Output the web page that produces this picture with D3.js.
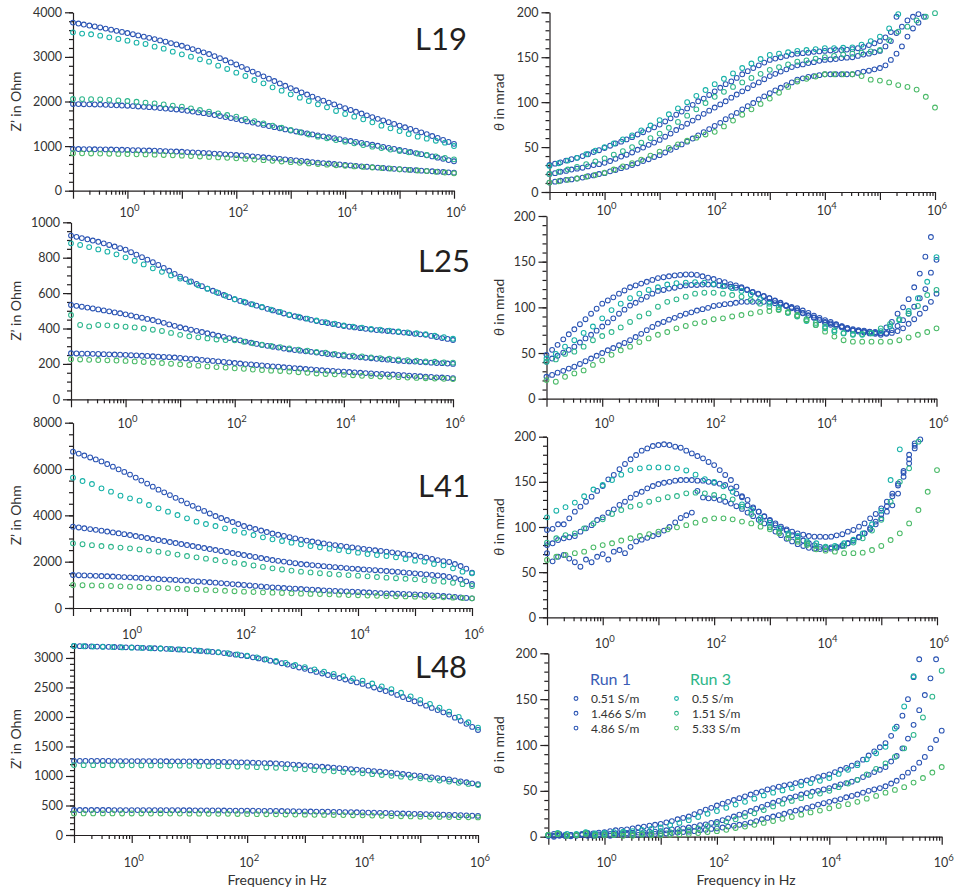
<!DOCTYPE html>
<html><head><meta charset="utf-8">
<script src="https://cdn.jsdelivr.net/npm/d3@7"></script>
<style>body{margin:0;background:#fff}svg{display:block}</style>
</head><body><svg id="c" width="962" height="891"></svg>
<script>
// ---------- DATA ----------
const freqRun1=[0.1,0.126,0.158,0.2,0.251,0.316,0.398,0.501,0.631,0.794,1,1.26,1.58,2,2.51,3.16,3.98,5.01,6.31,7.94,10,12.6,15.8,20,25.1,31.6,39.8,50.1,63.1,79.4,100,126,158,200,251,316,398,501,631,794,1e3,1260,1580,2e3,2510,3160,3980,5010,6310,7940,1e4,12600,15800,2e4,25100,31600,39800,50100,63100,79400,1e5,126000,158000,2e5,251000,316000,398000,501000,631000,794000,1e6];
const freqRun3=[0.1,0.147,0.215,0.316,0.464,0.681,1,1.47,2.15,3.16,4.64,6.81,10,14.7,21.5,31.6,46.4,68.1,100,147,215,316,464,681,1e3,1470,2150,3160,4640,6810,1e4,14700,21500,31600,46400,68100,1e5,147000,215000,316000,464000,681000,1e6];
const namesRun1=["0.51 S/m","1.466 S/m","4.86 S/m"];
const namesRun3=["0.5 S/m","1.51 S/m","5.33 S/m"];
const xLabelExps=[0,2,4,6];
const yTicksL19=[0,1000,2000,3000,4000];
const yTicksL25=[0,200,400,600,800,1000];
const yTicksL41=[0,2000,4000,6000,8000];
const yTicksL48=[0,500,1000,1500,2000,2500,3000];
const yTicksTheta=[0,50,100,150,200];

// L19 Z'
const L19_Z_r1_a=[3770,3748,3726,3704,3682,3660,3635,3610,3585,3560,3535,3508,3481,3454,3427,3400,3370,3340,3310,3280,3250,3213,3176,3139,3102,3065,3018,2971,2924,2877,2830,2777,2724,2671,2618,2565,2512,2459,2406,2353,2300,2252,2204,2156,2108,2060,2018,1976,1934,1892,1850,1810,1770,1730,1690,1650,1612,1574,1536,1498,1460,1422,1384,1346,1308,1270,1226,1182,1138,1094,1050];
const L19_Z_r1_b=[1945,1942,1939,1936,1933,1930,1925,1920,1915,1910,1905,1897,1889,1881,1873,1865,1854,1843,1832,1821,1810,1792,1774,1756,1738,1720,1697,1674,1651,1628,1605,1579,1553,1527,1501,1475,1450,1425,1400,1375,1350,1328,1306,1284,1262,1240,1219,1198,1177,1156,1135,1114,1093,1072,1051,1030,1007,984,961,938,915,891,867,843,819,795,768,741,714,687,660];
const L19_Z_r1_c=[935,934,932,931,929,928,925,923,920,918,915,911,908,904,901,897,892,887,883,878,873,866,860,853,847,840,832,824,816,808,800,790,780,770,760,750,738,726,714,702,690,678,666,654,642,630,619,609,598,588,577,567,557,547,537,527,518,509,500,491,482,474,466,458,450,442,435,427,420,412,404];
const L19_Z_r3_a=[3551,3522,3507,3477,3439,3402,3364,3320,3290,3230,3185,3118,3058,3006,2946,2893,2804,2729,2647,2572,2482,2407,2318,2243,2161,2086,2011,1936,1869,1787,1720,1660,1600,1533,1458,1398,1338,1271,1211,1166,1121,1077,1002];
const L19_Z_r3_b=[2056,2054,2051,2049,2036,2024,2011,1994,1976,1959,1934,1909,1884,1847,1809,1772,1735,1697,1660,1610,1560,1510,1460,1411,1361,1311,1261,1211,1174,1136,1099,1062,1024,987,955,922,890,860,830,800,768,735,703];
const L19_Z_r3_c=[840,837,835,832,829,825,822,817,813,808,801,793,786,776,767,757,746,736,725,712,698,685,670,655,640,626,611,597,584,571,558,545,533,520,507,495,482,468,454,440,423,407,390];
// L19 theta
const L19_T_r1_a=[30,31.5,33,35,36.5,38,40,42,44.5,46.5,49,51.5,54,56,58.5,61,64,66.5,69.5,72,75,78.5,82,86,89.5,93,97,101,104,108,112,116,120,123,127,131,134.5,138,141,144,147,148.5,150,151.5,153,154,154.5,155,156,156.5,157,157.5,158,158,158.5,159,160,161.5,163.5,165.5,168,172,178,195,null,null,null,null,null,null,null];
const L19_T_r1_b=[20,21,22.5,23.5,25,26,27,28.5,30,31,32.5,34.5,37,39.5,41.5,44,47,49.5,52.5,55,58,61.5,65,69,72.5,76,79.5,83,87,90.5,94,97.5,101,105,108.5,112,115.5,119,122,125.5,129,131.5,134,136.5,139,141,142,143.5,144.5,146,147,147.5,148,149,149.5,150,151.5,153,154,155.5,157,162,168,177,184,191,195,198,null,null,null];
const L19_T_r1_c=[10.5,11.5,12.5,13.5,14,15,16,17.5,18.5,20,21,23,24.5,26.5,28,30,32,34.5,36.5,39,41,44,47,50,53,56,59.5,63,66.5,70,73.5,77,81,84.5,88,92,95.5,99,103,106.5,110,113,116,119,122,125,126.5,128,129,130,131,131,131,131,131,131,132.5,134,135,136.5,138,141,147,154,162,173,182,188.5,195,null,null];
const L19_T_r3_a=[29,32,35,38,42,46,50,54,58.5,63,68.5,74,80,86.5,93,100,107,113.5,120,126,132,138,143,148,152.5,154,155.5,157,158,159,160,160,160.5,161,164,168,173,182,198,null,null,null,null];
const L19_T_r3_b=[20,22.5,25,28,31,34,37.5,41.5,45.5,50,55,60,65,71.5,78,85,92,99,106,111.5,117,122,127,131.5,136,139,142,145,146.5,148.5,150,151.5,153,154,155,156.5,158,169,178.5,184,191,195,199];
const L19_T_r3_c=[10.5,12,13.5,15,17,19,21.5,25,28.5,32,36,40.5,45,49,53,57,60.5,64,67,73,79.5,86,92,98,104,110.5,117,123,126,128.5,131,131,131,131,129,125,124,122,119,117,114,106,94];

// L25 Z'
const L25_Z_r1_a=[925,918,911,904,897,890,881,872,863,854,845,831,817,803,789,775,759,742,726,709,693,679,666,652,639,625,613,601,589,577,565,556,547,538,529,520,511,502,494,485,476,469,462,456,449,442,436,431,425,420,414,410,406,402,398,394,391,388,386,383,380,377,374,370,367,364,358,352,346,341,335];
const L25_Z_r1_b=[533,528,523,518,513,508,502,497,491,486,480,474,467,461,454,448,440,432,423,415,407,400,393,387,380,373,366,359,353,346,339,333,326,320,313,307,302,297,292,287,282,278,275,271,268,264,260,256,253,249,245,242,240,237,235,232,229,226,224,221,218,216,214,213,211,209,207,205,204,202,200];
const L25_Z_r1_c=[260,259,258,258,257,256,255,254,253,252,251,249,248,246,245,243,241,239,238,236,234,231,228,226,223,220,217,214,211,208,205,202,199,197,194,191,189,186,184,181,179,176,174,171,169,166,164,162,160,158,156,154,152,150,148,146,144,143,141,140,138,136,134,132,130,128,126,124,123,121,119];
const L25_Z_r3_a=[881,872,860,847,834,819,802,783,762,740,720,700,682,663,644,625,605,585,565,551,536,522,507,493,478,467,456,445,436,427,418,411,405,398,393,388,383,378,373,368,359,351,342];
const L25_Z_r3_b=[476,420,412,420,418,414,410,406,400,393,386,375,364,356,350,344,338,335,333,325,316,308,301,295,288,281,275,268,263,257,252,247,242,237,233,229,225,221,218,214,212,209,207];
const L25_Z_r3_c=[226,225,223,222,220,219,217,214,211,208,205,201,198,194,190,186,182,179,175,172,168,165,162,160,157,153,150,146,143,141,138,136,133,131,129,127,125,123,121,119,117,116,114];
// L25 theta
const L25_T_r1_a=[48,53.5,59,65,70.5,76,81.5,87,93,98.5,104,107.5,111,115,118.5,122,124,126,128,130,132,133,134,135,135.5,136,136,135.5,134,132.5,131,129,127.5,125.5,124,122,119.5,117,115,112.5,110,107,104.5,101.5,99,96,93.5,91,89,86.5,84,82.5,81,79,77.5,76,75,74.5,73.5,73,72,78,84,93,100,109,122,137,155.5,177,null];
const L25_T_r1_b=[40.5,44,47,50.5,53.5,57,61.5,66,70,74.5,79,83.5,88,93,97.5,102,105,108.5,111.5,115,118,119,120.5,121.5,123,124,124.5,124.5,125,125,125,124,123.5,122.5,121.5,121,119,116.5,114.5,112,110,107.5,105,102,99.5,97,94,91.5,88.5,86,83,81,79.5,78,76,74.5,73.5,72.5,71.5,71,70,72,75,79.6,86,93,100.7,110,120,138,152];
const L25_T_r1_c=[24,26,28.5,30.5,33,35,38,41,44,47,50,53,55.5,58.5,61,64,67.5,71,75,78.5,82,84,86.5,88.5,91,93,94.5,96.5,98,99.5,101.5,102.5,103.5,104,105,106,106,106,106,106,106,104.5,103,102,100.5,99,96.5,94,91,88.5,86,84,81.5,79.5,77,75,74.5,73.5,73,72,71.5,71,72,74,77,82,87,93,99,106,115];
const L25_T_r3_a=[44,49,57,64,72,79,88,97,104,110,115,119,122,125,126.5,127,127.5,127,125.5,123,121,118,114,109,104,100,94,90.5,85,80.7,77,73.4,71.5,70,70,71.5,74,79,86,96,110,128,155];
const L25_T_r3_b=[40.5,43,49,51.5,57,64,68.6,73,78,84,90,93.4,100.7,106,108.8,111.7,115,116,116,115,113.5,111.7,108,104,100.7,97.8,94,90,87,83,79,75,72,70.8,70.8,72,77,81.8,87,93.4,101.5,113.5,119];
const L25_T_r3_c=[20.4,18.6,24,27.7,31,37,42,48,53,57,62,66,70,73,77,79.6,82.5,84,87,88,90,91.6,93.4,95,96,97,95,91.6,86,80.7,73.4,68,64,62.4,62.4,62.4,62.4,62.4,64,67,70,73,77];

// L41 Z'
const L41_Z_r1_a=[6750,6666,6582,6498,6414,6330,6216,6102,5988,5874,5760,5630,5500,5370,5240,5110,4992,4874,4756,4638,4520,4410,4300,4190,4080,3970,3884,3798,3712,3626,3540,3475,3410,3345,3280,3215,3162,3109,3056,3003,2950,2910,2870,2830,2790,2750,2716,2682,2648,2614,2580,2551,2522,2493,2464,2435,2402,2369,2336,2303,2270,2220,2170,2120,2070,2020,1986,1899,1813,1698,1525];
const L41_Z_r1_b=[3511,3476,3442,3407,3373,3338,3301,3263,3226,3188,3151,3108,3065,3021,2978,2935,2892,2849,2805,2762,2719,2676,2633,2590,2547,2504,2461,2418,2374,2331,2288,2245,2202,2158,2115,2072,2037,2003,1968,1934,1899,1876,1853,1830,1807,1784,1764,1744,1723,1703,1683,1666,1649,1631,1614,1597,1577,1557,1536,1516,1496,1473,1450,1427,1404,1381,1340,1290,1230,1150,1036];
const L41_Z_r1_c=[1424,1415,1407,1398,1390,1381,1370,1358,1347,1335,1324,1310,1295,1281,1266,1252,1238,1223,1209,1194,1180,1163,1146,1128,1111,1094,1074,1054,1033,1013,993,973,953,932,912,892,878,863,849,834,820,806,791,777,762,748,737,725,714,702,691,679,668,656,645,633,624,616,607,599,590,576,561,547,532,518,498,478,457,437,417];
const L41_Z_r3_a=[5626,5482,5353,5165,5022,4849,4734,4633,4446,4302,4158,4014,3871,3727,3626,3540,3439,3338,3252,3151,3050,2964,2892,2820,2748,2676,2619,2561,2504,2446,2388,2331,2288,2245,2187,2115,2043,2000,1899,1842,1712,1568,1496];
const L41_Z_r3_b=[2791,2753,2714,2676,2643,2609,2576,2528,2480,2432,2370,2307,2245,2187,2130,2072,2014,1957,1899,1837,1774,1712,1664,1616,1568,1535,1501,1468,1444,1420,1396,1367,1338,1309,1285,1261,1237,1204,1170,1137,1090,1030,950];
const L41_Z_r3_c=[993,983,974,964,950,935,921,907,892,878,859,839,820,801,782,763,744,724,705,691,676,662,648,633,619,609,600,590,576,561,547,537,528,518,508,499,489,479,470,460,446,431,417];
// L41 theta
const L41_T_r1_a=[96.7,98,103,103,109.6,117,122.5,128,133.6,140,145.4,152.8,157.6,164,169.8,175,179.7,184.5,187,189.7,190.8,191.6,190.8,189,187.8,184.5,181.5,178.6,176,172,168.6,163,157.6,152,144.6,134,130,121.8,117,112,107.7,104,100.4,97.4,94.8,93,91.5,90,89.3,89.3,89,89.3,90.8,92,94.8,96.7,100.4,104,109.6,114.4,120.7,128,137,148,162,180,192.6,null,null,null,null];
const L41_T_r1_b=[80,82,85.6,87.5,88.6,90,94.8,98.5,102,107.7,110.7,115.8,119.6,124.4,128,132.5,136.5,139,142.8,145.4,147.6,149,150,151.3,152,152,152,151.3,151.3,150,149,148,146.5,142.8,137,133,124,120.7,117,111.4,107,102,98.5,96,91,88.6,85,82,80,78,77.5,77.5,78,80,82,85,88.6,93,97.4,103,109.6,117,124,137,155.7,170.5,187,null,null,null,null];
const L41_T_r1_c=[71,62,67,69,65,61,56,64,61,67,70,64,72.7,74.5,71,78,84,86,88,90,92,96,100,105,110,113,116,140,132.8,131.7,131.7,130,128,126,123,120,116,112,108,104,100,95,91,87,84,81,79,77,76,75.5,75.5,76,77,79,82,85,89,93,99,106,114,123,134,146,160,175,190,197,null,null,null];
const L41_T_r3_a=[110.7,118,122,127,134,141.5,146.5,152,158,163,165,166,166,166,165,162.6,158,153,150,145,139,125,119,110,104.8,98.5,93,90,84,82,78.2,79,82,86,93,103,118,152,186,null,null,null,null];
const L41_T_r3_b=[82.7,87.5,91,93,98.5,104,108.5,114.4,118.8,122.5,124.4,128,130.6,133,134.3,137.3,138,137.3,135.4,133.6,130.6,122.5,114.4,106,99.6,94.8,91,86,82,79,77.5,77.5,79,82.7,87.5,96,108,128,150,165,194.5,null,null];
const L41_T_r3_c=[63.5,67,69,71,72.7,77.5,80,82,85,87.5,90,92,94.8,97.4,99.6,102,104.8,107.7,109.6,109.6,108.5,106,104,100.4,97.4,93,87.5,83.8,80,75.3,73.8,72.7,71,71,71.6,74.5,79,85.6,93,104,118.8,139,163];

// L48 Z'
const L48_Z_r1_a=[3203,3200,3198,3195,3193,3190,3188,3185,3183,3180,3178,3174,3171,3167,3164,3160,3155,3150,3145,3140,3135,3127,3119,3111,3103,3095,3082,3069,3056,3043,3030,3011,2992,2973,2954,2935,2911,2887,2863,2839,2815,2789,2763,2737,2711,2685,2660,2635,2610,2585,2560,2530,2500,2470,2440,2410,2374,2338,2302,2266,2230,2192,2154,2116,2078,2040,1988,1936,1884,1832,1780];
const L48_Z_r1_b=[1255,1255,1255,1254,1254,1254,1254,1253,1253,1252,1252,1252,1251,1251,1250,1250,1249,1248,1247,1247,1246,1245,1244,1242,1241,1240,1238,1236,1233,1231,1229,1226,1222,1219,1215,1212,1206,1199,1193,1186,1180,1172,1164,1156,1148,1140,1132,1124,1116,1108,1100,1091,1082,1073,1064,1055,1044,1033,1022,1011,1000,988,977,965,954,942,926,909,893,876,860];
const L48_Z_r1_c=[423,423,423,423,423,423,423,422,422,422,422,422,421,421,421,421,421,420,420,419,419,418,418,417,417,416,415,414,413,413,412,411,410,409,408,407,406,404,403,401,400,398,397,395,394,392,390,388,387,385,383,380,378,375,373,370,367,364,362,359,356,353,350,348,345,342,339,335,332,328,325];
const L48_Z_r3_a=[3203,3198,3193,3188,3184,3179,3175,3170,3165,3160,3152,3143,3135,3123,3112,3100,3080,3060,3040,3010,2980,2950,2915,2880,2845,2807,2768,2730,2692,2653,2615,2567,2518,2470,2410,2350,2290,2223,2157,2090,2000,1910,1820];
const L48_Z_r3_b=[1185,1184,1184,1183,1182,1181,1180,1179,1179,1178,1176,1175,1173,1171,1168,1166,1163,1159,1156,1150,1144,1138,1129,1121,1112,1101,1091,1080,1068,1057,1045,1031,1017,1003,989,974,960,942,923,905,885,866,846];
const L48_Z_r3_c=[366,366,366,366,366,365,365,365,364,364,363,363,362,361,360,359,358,356,355,353,352,350,348,346,344,342,341,339,337,335,333,329,326,322,318,315,311,309,306,304,302,300,298];
// L48 theta
const L48_T_r1_a=[1,3,1,2,2,2,3,4,3.5,4.5,5,6,7,7.5,8,9,10,11,12,13,14,15.5,17,19,20.5,22,24.5,27,29.5,31.5,34,36,38,40,42,44,46,48,49.5,51.5,53,54.5,56,57,58.5,60,61.5,63,65,66.5,68,70.5,73,75,77.5,80,84,88.5,93,97.5,102,110,120,132,150,174,193.5,null,null,null,null];
const L48_T_r1_b=[2,1,3,1,2,1.5,2,3,2,2.5,2.5,3,3.5,3.5,4,4,4.5,5,5.5,5.5,6,7,8,8.5,9,10,11,12.5,13.5,15,16,18,20,22,24,26,28,30.5,32.5,35,37,39,41,42.5,44,46,47.5,49,50,51.5,53,55,57,58.5,60,62,65,67.5,70.5,73,76,82,88,96.4,107,122,138,154.5,172.7,193.5,null];
const L48_T_r1_c=[1,0,2,1,0.5,1,2,1,1,1.5,1.5,1,2,2,2,2,2,2.5,2.5,3,3,3.5,4,4.5,5,5.5,6,7,7.5,8.5,9,10,11,12,13,14,15.5,17,19,20.5,22,23.5,25,27,28.5,30,31.5,33,35,36.5,38,39.5,41,43,44.5,46,48,50,51.5,53,55,58,61,65.5,69.8,74.5,80.7,87,96.4,105.5,115.6];
const L48_T_r3_a=[2,4,3,3,5,3.5,4,5,5.5,6,7.5,8.5,10,12.5,15,18,21.5,25,28,31.5,35,38,41.5,45,48,50.5,53,56,58.5,61,64,68.5,73,78,84.5,91,98,118,142,175,null,null,null];
const L48_T_r3_b=[2,3,1,2,4,2.5,3,2,4,3,3.5,3.5,4,5,6,7,9,11.5,14,16.5,19,22,25.5,29,33,36,39,42,44.5,47,50,54,58,62,68,74,80,87,96.4,111,130,152.7,181];
const L48_T_r3_c=[2,3,1,1.5,3,1,1.5,2,1,1,2,1.5,1.5,2,2.5,3,4,5,6,7.5,9.5,11,13,15,17,19.5,21.5,24,26.5,28.5,31,33.5,35.5,38,41.5,44.5,48,51,54,59,64,70,76];

// ---------- STYLE / LAYOUT ----------
const colRun1=["#2953b3","#2953b3","#2953b3"];
const colRun3=["#17b2a8","#2db68c","#4aba68"];
const AX="#231f20", TXT="#333";
const FONT="Lato,'Open Sans',sans-serif";

const panels=[
 {lab:"L19",kind:"Z",ticks:yTicksL19,minor:200,yMax:4000,x0:73,x1:454,yT:12.3,yB:190.7,lx:467,ly:50,off:26,r1:[L19_Z_r1_a,L19_Z_r1_b,L19_Z_r1_c],r3:[L19_Z_r3_a,L19_Z_r3_b,L19_Z_r3_c]},
 {lab:"L25",kind:"Z",ticks:yTicksL25,minor:50,yMax:1000,x0:71,x1:453,yT:222.3,yB:399.3,lx:470,ly:272,off:29,r1:[L25_Z_r1_a,L25_Z_r1_b,L25_Z_r1_c],r3:[L25_Z_r3_a,L25_Z_r3_b,L25_Z_r3_c]},
 {lab:"L41",kind:"Z",ticks:yTicksL41,minor:500,yMax:8000,x0:73,x1:472,yT:422.7,yB:608,lx:470,ly:497,off:31,r1:[L41_Z_r1_a,L41_Z_r1_b,L41_Z_r1_c],r3:[L41_Z_r3_a,L41_Z_r3_b,L41_Z_r3_c]},
 {lab:"L48",kind:"Z",ticks:yTicksL48,minor:100,yMax:3250,x0:74,x1:478,yT:643.2,yB:835,lx:467,ly:678,off:32,r1:[L48_Z_r1_a,L48_Z_r1_b,L48_Z_r1_c],r3:[L48_Z_r3_a,L48_Z_r3_b,L48_Z_r3_c],xtitle:true},
 {lab:null,kind:"T",ticks:yTicksTheta,minor:10,yMax:200,x0:549.5,x1:935,yT:12.3,yB:192,off:23,r1:[L19_T_r1_a,L19_T_r1_b,L19_T_r1_c],r3:[L19_T_r3_a,L19_T_r3_b,L19_T_r3_c]},
 {lab:null,kind:"T",ticks:yTicksTheta,minor:10,yMax:200,x0:546.5,x1:936.5,yT:216,yB:398.7,off:29,r1:[L25_T_r1_a,L25_T_r1_b,L25_T_r1_c],r3:[L25_T_r3_a,L25_T_r3_b,L25_T_r3_c]},
 {lab:null,kind:"T",ticks:yTicksTheta,minor:10,yMax:200,x0:547,x1:937,yT:436.7,yB:617.3,off:31,r1:[L41_T_r1_a,L41_T_r1_b,L41_T_r1_c],r3:[L41_T_r3_a,L41_T_r3_b,L41_T_r3_c]},
 {lab:null,kind:"T",ticks:yTicksTheta,minor:10,yMax:200,x0:548.3,x1:941.7,yT:653.3,yB:836.7,off:30,r1:[L48_T_r1_a,L48_T_r1_b,L48_T_r1_c],r3:[L48_T_r3_a,L48_T_r3_b,L48_T_r3_c],xtitle:true,legend:true}
];

const svg=d3.select("#c").attr("font-family",FONT);
const xMajor=[0.1,1,10,100,1e3,1e4,1e5,1e6];
const xMinor=[];for(let k=-1;k<6;k++)for(let m=2;m<=9;m++)xMinor.push(m*Math.pow(10,k));

function styleAxis(s){s.selectAll("path,line").attr("stroke",AX).attr("stroke-width",1.2);}

function drawPanel(p){
  const x=d3.scaleLog().domain([0.1,1e6]).range([p.x0,p.x1]);
  const y=d3.scaleLinear().domain([0,p.yMax]).range([p.yB,p.yT]);
  const g=svg.append("g");
  // x axis
  g.append("g").attr("transform",`translate(0,${p.yB})`)
    .call(d3.axisBottom(x).tickValues(xMinor).tickSize(4).tickFormat("").tickSizeOuter(0))
    .call(s=>s.select(".domain").remove()).call(styleAxis);
  g.append("g").attr("transform",`translate(0,${p.yB})`)
    .call(d3.axisBottom(x).tickValues(xMajor).tickSize(8).tickFormat("").tickSizeOuter(0)).call(styleAxis);
  const xl=g.append("g").attr("font-size",12.5).attr("fill",TXT);
  xLabelExps.forEach(e=>{
    const t=xl.append("text").attr("x",x(Math.pow(10,e))+2).attr("y",p.yB+p.off).attr("text-anchor","middle");
    t.append("tspan").text("10");
    t.append("tspan").attr("dy",-6).attr("font-size",9.5).text(e);
  });
  // y axis
  g.append("g").attr("transform",`translate(${p.x0},0)`)
    .call(d3.axisLeft(y).tickValues(d3.range(0,p.yMax+1e-6,p.minor)).tickSize(4).tickFormat("").tickSizeOuter(0))
    .call(s=>s.select(".domain").remove()).call(styleAxis);
  g.append("g").attr("transform",`translate(${p.x0},0)`)
    .call(d3.axisLeft(y).tickValues(p.ticks).tickSize(8).tickPadding(3).tickSizeOuter(0).tickFormat(d3.format("d")))
    .call(styleAxis)
    .call(s=>s.selectAll("text").attr("font-size",12.5).attr("fill",TXT).attr("font-family",FONT));
  // y title
  const cy=(p.yT+p.yB)/2;
  const tx=p.kind==="Z"?21:504;
  const yt=g.append("text").attr("transform",`translate(${tx},${cy}) rotate(-90)`).attr("text-anchor","middle")
    .attr("font-size",14).attr("fill",TXT);
  if(p.kind==="Z"){yt.text("Z’ in Ohm");}
  else{yt.append("tspan").attr("font-style","italic").text("θ");yt.append("tspan").text(" in mrad");}
  // data
  const drawSet=(vals,freqs,color)=>{
    const pts=d3.zip(freqs,vals).filter(d=>d[1]!=null&&d[1]>=0&&d[1]<=p.yMax);
    g.append("g").selectAll("circle").data(pts).join("circle")
      .attr("cx",d=>x(d[0])).attr("cy",d=>y(d[1])).attr("r",2.4)
      .attr("fill","none").attr("stroke",color).attr("stroke-width",1.05);
  };
  p.r1.forEach((v,i)=>drawSet(v,freqRun1,colRun1[i]));
  p.r3.forEach((v,i)=>drawSet(v,freqRun3,colRun3[i]));
  if(p.lab){
    g.append("text").attr("x",p.lx).attr("y",p.ly).attr("text-anchor","end").attr("font-size",31)
      .attr("fill",AX).text(p.lab);
  }
  if(p.xtitle){
    g.append("text").attr("x",(p.x0+p.x1)/2+1).attr("y",885).attr("text-anchor","middle")
      .attr("font-size",14).attr("fill",TXT).text("Frequency in Hz");
  }
  if(p.legend){
    const L=g.append("g");
    L.append("text").attr("x",590).attr("y",685).attr("font-size",16).attr("fill","#3a5cb5").text("Run 1");
    L.append("text").attr("x",690).attr("y",685).attr("font-size",16).attr("fill","#2db688").text("Run 3");
    namesRun1.forEach((n,i)=>{
      L.append("circle").attr("cx",576).attr("cy",698.5+i*14.8).attr("r",1.9).attr("fill","none").attr("stroke",colRun1[i]).attr("stroke-width",1.05);
      L.append("text").attr("x",591).attr("y",703+i*14.8).attr("font-size",12).attr("fill",TXT).text(n);
    });
    namesRun3.forEach((n,i)=>{
      L.append("circle").attr("cx",676.5).attr("cy",698.5+i*14.8).attr("r",1.9).attr("fill","none").attr("stroke",colRun3[i]).attr("stroke-width",1.05);
      L.append("text").attr("x",692).attr("y",703+i*14.8).attr("font-size",12).attr("fill",TXT).text(n);
    });
  }
}
panels.forEach(drawPanel);
</script></body></html>
